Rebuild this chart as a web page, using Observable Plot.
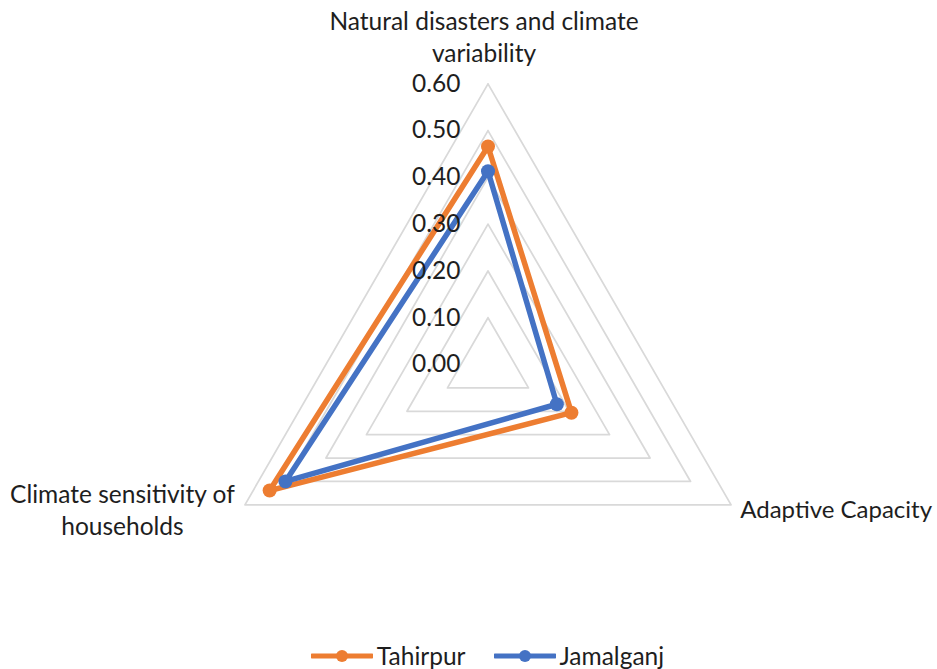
<!DOCTYPE html>
<html>
<head>
<meta charset="utf-8">
<script src="https://cdn.jsdelivr.net/npm/d3@7"></script>
<script src="https://cdn.jsdelivr.net/npm/@observablehq/plot@0.6"></script>
<style>
  html, body { margin: 0; padding: 0; background: #ffffff; }
  #chart { width: 937px; }
  .legend {
    display: flex; justify-content: center; align-items: center;
    height: 39px; padding-top: 6px; margin-left: 38px;
    font-family: Lato, "Open Sans", sans-serif; font-size: 24.5px; color: #1e1e1e;
  }
  .legend .item { display: flex; align-items: center; }
  .legend .item + .item { margin-left: 28px; }
  .legend svg { margin-right: 4px; }
</style>
</head>
<body>
<div id="chart"></div>
<script>
// Radar axes, clockwise from the top
const categories = [
  "Natural disasters and climate\nvariability",
  "Adaptive Capacity",
  "Climate sensitivity of\nhouseholds"
];
const seriesNames = ["Tahirpur", "Jamalganj"];
const tahirpur = [0.466, 0.206, 0.539];
const jamalganj = [0.413, 0.170, 0.500];
const tickValues = [0, 0.1, 0.2, 0.3, 0.4, 0.5, 0.6];
const tickLabels = ["0.00", "0.10", "0.20", "0.30", "0.40", "0.50", "0.60"];
const seriesColors = ["#ED7D31", "#4472C4"];

// Layout: centre of the radar in pixels and pixels per unit of value
const W = 937, H = 630;
const cx = 487.5, cy = 364, k = 467.8;
const fontSize = 24.5;

const angle = i => Math.PI / 2 - i * 2 * Math.PI / categories.length;
const polar = (r, i) => ({x: r * Math.cos(angle(i)), y: r * Math.sin(angle(i))});
const closed = n => [...d3.range(n), 0];

// Grid rings (triangles) for every tick above zero
const rings = tickValues.filter(v => v > 0).flatMap(v =>
  closed(categories.length).map(i => ({level: v, ...polar(v, i)})));

// Series outlines and vertices
const seriesValues = [tahirpur, jamalganj];
const seriesRows = seriesNames.map((name, s) =>
  closed(categories.length).map(i => ({name, ...polar(seriesValues[s][i], i)})));

const ticks = tickValues.map((v, j) => ({label: tickLabels[j], x: 0, y: v}));
const outer = d3.max(tickValues);
const vertex = i => polar(outer, i);

const font = 'Lato, "Open Sans", sans-serif';
const ink = "#1e1e1e";

const marks = [
  Plot.line(rings, {x: "x", y: "y", z: "level", stroke: "#D9D9D9", strokeWidth: 1.75}),
  ...seriesRows.flatMap((rows, s) => [
    Plot.line(rows, {x: "x", y: "y", stroke: seriesColors[s], strokeWidth: 5.5,
      strokeLinejoin: "round", strokeLinecap: "round"}),
    Plot.dot(rows.slice(0, -1), {x: "x", y: "y", r: 7, fill: seriesColors[s], stroke: "none"})
  ]),
  Plot.text(ticks, {x: "x", y: "y", text: "label", textAnchor: "end", dx: -27.5,
    fill: ink, fontSize}),
  Plot.text([categories[0]], {x: vertex(0).x, y: vertex(0).y, text: d => d,
    textAnchor: "middle", lineAnchor: "bottom", lineHeight: 1.29, dx: -4, dy: -22,
    fill: ink, fontSize}),
  Plot.text([categories[1]], {x: vertex(1).x, y: vertex(1).y, text: d => d,
    textAnchor: "end", lineAnchor: "bottom", dx: 201, dy: 13,
    fill: ink, fontSize: 24}),
  Plot.text([categories[2]], {x: vertex(2).x, y: vertex(2).y, text: d => d,
    textAnchor: "middle", lineAnchor: "bottom", lineHeight: 1.29, dx: -122.5, dy: 30,
    fill: ink, fontSize})
];

const chart = Plot.plot({
  width: W, height: H, margin: 0,
  x: {domain: [-cx / k, (W - cx) / k], axis: null},
  y: {domain: [(cy - H) / k, cy / k], axis: null},
  style: {fontFamily: font, background: "#ffffff", overflow: "visible"},
  marks
});
document.getElementById("chart").append(chart);

// Legend below the plot
const legend = document.createElement("div");
legend.className = "legend";
seriesNames.forEach((name, s) => {
  const item = document.createElement("div");
  item.className = "item";
  item.innerHTML = `<svg width="62" height="14" viewBox="0 0 62 14">
    <line x1="1" y1="7" x2="61" y2="7" stroke="${seriesColors[s]}" stroke-width="5" stroke-linecap="round"/>
    <circle cx="31" cy="7" r="6" fill="${seriesColors[s]}"/></svg><span></span>`;
  item.querySelector("span").textContent = name;
  legend.append(item);
});
document.getElementById("chart").append(legend);
</script>
</body>
</html>
